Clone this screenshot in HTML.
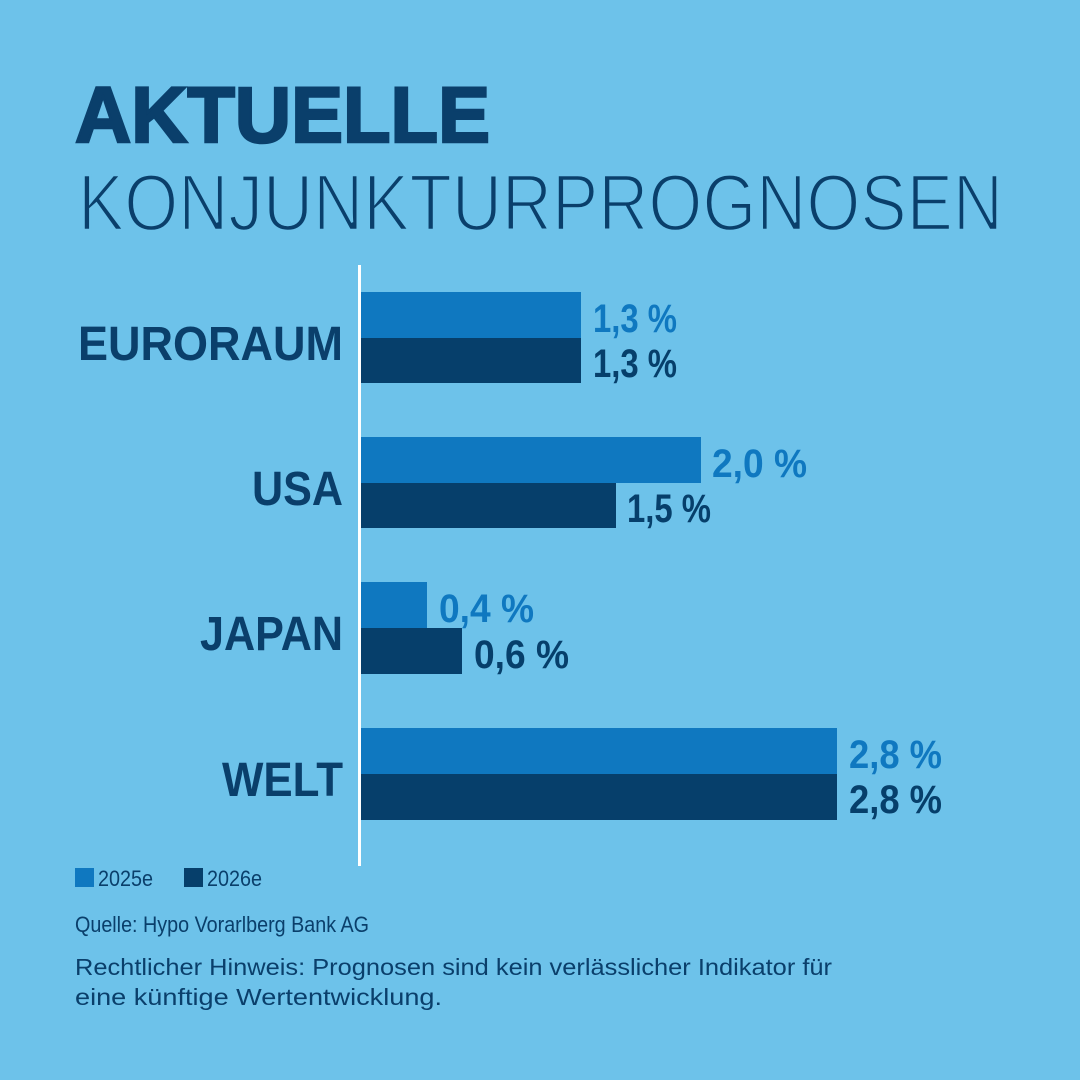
<!DOCTYPE html>
<html><head><meta charset="utf-8"><style>
html,body{margin:0;padding:0;background:#6dc2ea;}
svg{display:block}
text{font-family:"Liberation Sans",sans-serif;}
</style></head><body>
<svg width="1080" height="1080" viewBox="0 0 1080 1080" xmlns="http://www.w3.org/2000/svg">
<rect width="1080" height="1080" fill="#6dc2ea"/>
<text x="75" y="142" font-size="79" font-weight="bold" fill="#0a3f6b" textLength="415" lengthAdjust="spacingAndGlyphs" stroke="#0a3f6b" stroke-width="2.5">AKTUELLE</text>
<text x="78" y="230" font-size="80" fill="#0a3f6b" textLength="925" lengthAdjust="spacingAndGlyphs" stroke="#6dc2ea" stroke-width="2.5" paint-order="fill stroke">KONJUNKTURPROGNOSEN</text>
<rect x="358" y="265" width="3" height="601" fill="#ffffff"/>
<g fill="#0f78c0">
<rect x="361" y="292" width="220" height="46"/>
<rect x="361" y="437" width="340" height="46"/>
<rect x="361" y="582" width="66" height="46"/>
<rect x="361" y="728" width="476" height="46"/>
</g>
<g fill="#063f6b">
<rect x="361" y="338" width="220" height="45"/>
<rect x="361" y="483" width="255" height="45"/>
<rect x="361" y="628" width="101" height="46"/>
<rect x="361" y="774" width="476" height="46"/>
</g>
<g font-size="48" font-weight="bold" fill="#0a3f6b" text-anchor="end">
<text x="343" y="360" textLength="265" lengthAdjust="spacingAndGlyphs">EURORAUM</text>
<text x="343" y="505" textLength="91" lengthAdjust="spacingAndGlyphs">USA</text>
<text x="343" y="650" textLength="143" lengthAdjust="spacingAndGlyphs">JAPAN</text>
<text x="343" y="796" textLength="121" lengthAdjust="spacingAndGlyphs">WELT</text>
</g>
<g font-size="40" font-weight="bold">
<text x="593" y="332" fill="#0f78c0" textLength="84" lengthAdjust="spacingAndGlyphs">1,3 %</text>
<text x="593" y="377" fill="#063f6b" textLength="84" lengthAdjust="spacingAndGlyphs">1,3 %</text>
<text x="712" y="477" fill="#0f78c0" textLength="95" lengthAdjust="spacingAndGlyphs">2,0 %</text>
<text x="627" y="522" fill="#063f6b" textLength="84" lengthAdjust="spacingAndGlyphs">1,5 %</text>
<text x="439" y="622" fill="#0f78c0" textLength="95" lengthAdjust="spacingAndGlyphs">0,4 %</text>
<text x="474" y="668" fill="#063f6b" textLength="95" lengthAdjust="spacingAndGlyphs">0,6 %</text>
<text x="849" y="768" fill="#0f78c0" textLength="93" lengthAdjust="spacingAndGlyphs">2,8 %</text>
<text x="849" y="813" fill="#063f6b" textLength="93" lengthAdjust="spacingAndGlyphs">2,8 %</text>
</g>
<rect x="75" y="868" width="19" height="19" fill="#0f78c0"/>
<text x="98" y="886" font-size="22" fill="#0a3f6b" textLength="55" lengthAdjust="spacingAndGlyphs">2025e</text>
<rect x="184" y="868" width="19" height="19" fill="#063f6b"/>
<text x="207" y="886" font-size="22" fill="#0a3f6b" textLength="55" lengthAdjust="spacingAndGlyphs">2026e</text>
<text x="75" y="932" font-size="22" fill="#0a3f6b" textLength="294" lengthAdjust="spacingAndGlyphs">Quelle: Hypo Vorarlberg Bank AG</text>
<text x="75" y="975" font-size="23" fill="#0a3f6b" textLength="757" lengthAdjust="spacingAndGlyphs">Rechtlicher Hinweis: Prognosen sind kein verlässlicher Indikator für</text>
<text x="75" y="1005" font-size="23" fill="#0a3f6b" textLength="367" lengthAdjust="spacingAndGlyphs">eine künftige Wertentwicklung.</text>
</svg>
</body></html>
